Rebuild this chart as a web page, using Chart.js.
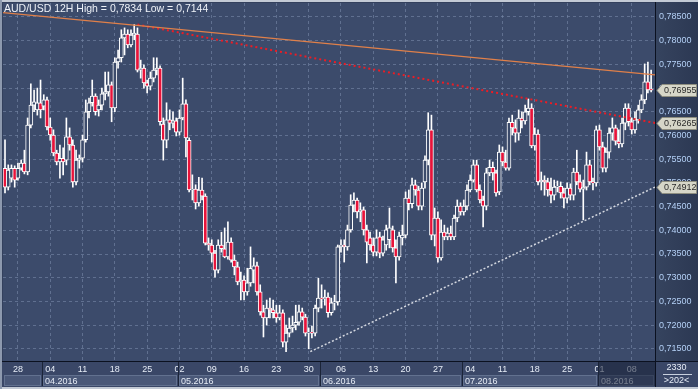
<!DOCTYPE html>
<html>
<head>
<meta charset="utf-8">
<script src="https://cdn.jsdelivr.net/npm/chart.js@4.4.0/dist/chart.umd.min.js"></script>
<style>
  html, body { margin: 0; padding: 0; background: #33405d; }
  #wrap { width: 698px; height: 389px; }
</style>
</head>
<body>
<div id="wrap"><canvas id="chart" width="698" height="389"></canvas></div>
<script>
// AUD/USD 12H candles, 24.03.2016 - 11.08.2016
const openPrices = [
  .7531,.7491,.7510,.7531,.7510,.7531,.7542,.7523,.7622,.7664,
  .7654,.7669,.7662,.7675,.7618,.7601,.7563,.7544,.7552,.7548,
  .7597,.7580,.7502,.7548,.7552,.7591,.7650,.7669,.7683,.7654,
  .7664,.7688,.7692,.7707,.7658,.7755,.7764,.7806,.7814,.7791,
  .7812,.7814,.7738,.7742,.7711,.7704,.7721,.7738,.7742,.7624,
  .7590,.7633,.7626,.7631,.7607,.7637,.7667,.7590,.7485,.7487,
  .7458,.7485,.7472,.7373,.7369,.7352,.7316,.7369,.7361,.7344,
  .7375,.7337,.7323,.7291,.7295,.7270,.7289,.7316,.7325,.7270,
  .7228,.7215,.7236,.7232,.7226,.7215,.7226,.7164,.7183,.7194,
  .7200,.7206,.7228,.7217,.7183,.7185,.7183,.7236,.7257,.7255,
  .7259,.7226,.7247,.7249,.7365,.7369,.7365,.7401,.7453,.7464,
  .7439,.7443,.7401,.7384,.7369,.7354,.7386,.7352,.7369,.7380,
  .7401,.7363,.7344,.7384,.7390,.7468,.7456,.7496,.7485,.7451,
  .7502,.7548,.7612,.7390,.7426,.7342,.7396,.7386,.7394,.7386,
  .7426,.7451,.7439,.7451,.7485,.7506,.7538,.7485,.7464,.7451,
  .7521,.7533,.7521,.7481,.7565,.7544,.7531,.7628,.7616,.7605,
  .7637,.7631,.7650,.7658,.7578,.7603,.7502,.7506,.7502,.7485,
  .7474,.7491,.7493,.7479,.7468,.7489,.7474,.7523,.7502,.7487,
  .7491,.7538,.7502,.7500,.7612,.7576,.7531,.7565,.7605,.7616,
  .7588,.7582,.7626,.7658,.7629,.7612,.7633,.7654,.7675,.7713,
  .7698
];
const highPrices = [
  .7591,.7538,.7538,.7536,.7542,.7548,.7569,.7637,.7709,.7696,
  .7700,.7717,.7686,.7681,.7637,.7612,.7569,.7580,.7574,.7637,
  .7616,.7591,.7569,.7559,.7601,.7675,.7679,.7717,.7688,.7675,
  .7700,.7734,.7734,.7713,.7764,.7780,.7823,.7827,.7823,.7823,
  .7834,.7827,.7759,.7749,.7717,.7734,.7764,.7764,.7747,.7637,
  .7669,.7654,.7650,.7637,.7654,.7721,.7675,.7595,.7517,.7496,
  .7512,.7510,.7477,.7384,.7380,.7358,.7380,.7396,.7405,.7418,
  .7384,.7348,.7333,.7312,.7304,.7320,.7365,.7342,.7333,.7285,
  .7242,.7253,.7257,.7253,.7242,.7242,.7232,.7200,.7215,.7219,
  .7242,.7242,.7236,.7223,.7194,.7198,.7242,.7299,.7285,.7274,
  .7268,.7257,.7263,.7369,.7380,.7380,.7411,.7475,.7479,.7468,
  .7458,.7449,.7411,.7396,.7384,.7401,.7396,.7388,.7411,.7447,
  .7409,.7380,.7396,.7411,.7481,.7485,.7510,.7506,.7493,.7500,
  .7557,.7648,.7643,.7447,.7439,.7422,.7411,.7405,.7409,.7432,
  .7464,.7458,.7464,.7496,.7517,.7548,.7548,.7496,.7472,.7531,
  .7548,.7544,.7527,.7580,.7576,.7569,.7637,.7643,.7633,.7654,
  .7650,.7664,.7677,.7667,.7616,.7612,.7523,.7515,.7510,.7510,
  .7506,.7504,.7502,.7489,.7500,.7498,.7531,.7569,.7517,.7506,
  .7565,.7548,.7510,.7620,.7622,.7586,.7574,.7616,.7637,.7622,
  .7612,.7637,.7667,.7667,.7637,.7650,.7664,.7686,.7751,.7755,
  .7738
];
const lowPrices = [
  .7479,.7485,.7502,.7491,.7506,.7527,.7519,.7517,.7616,.7650,
  .7643,.7637,.7654,.7612,.7590,.7557,.7538,.7510,.7517,.7538,
  .7569,.7491,.7496,.7531,.7544,.7586,.7637,.7662,.7643,.7641,
  .7654,.7675,.7683,.7629,.7650,.7742,.7755,.7770,.7785,.7787,
  .7802,.7734,.7721,.7700,.7690,.7696,.7713,.7728,.7622,.7548,
  .7574,.7612,.7616,.7599,.7601,.7633,.7555,.7481,.7464,.7445,
  .7451,.7464,.7369,.7358,.7333,.7301,.7310,.7354,.7342,.7339,
  .7333,.7306,.7285,.7253,.7253,.7263,.7282,.7289,.7263,.7221,
  .7175,.7200,.7215,.7215,.7206,.7211,.7154,.7144,.7175,.7185,
  .7190,.7200,.7211,.7177,.7150,.7173,.7177,.7228,.7236,.7242,
  .7217,.7221,.7232,.7242,.7354,.7333,.7358,.7396,.7439,.7426,
  .7418,.7390,.7331,.7358,.7346,.7346,.7342,.7346,.7358,.7363,
  .7354,.7289,.7337,.7369,.7384,.7443,.7447,.7474,.7443,.7443,
  .7489,.7538,.7380,.7367,.7333,.7337,.7380,.7380,.7380,.7380,
  .7418,.7432,.7432,.7443,.7481,.7502,.7481,.7458,.7407,.7443,
  .7515,.7506,.7472,.7475,.7536,.7527,.7527,.7601,.7586,.7590,
  .7616,.7624,.7643,.7574,.7569,.7496,.7485,.7474,.7472,.7458,
  .7464,.7481,.7468,.7447,.7458,.7464,.7464,.7496,.7481,.7422,
  .7485,.7496,.7485,.7493,.7569,.7523,.7523,.7552,.7590,.7580,
  .7574,.7576,.7612,.7620,.7603,.7605,.7626,.7648,.7667,.7690,
  .7692
];
const closePrices = [
  .7491,.7527,.7531,.7506,.7531,.7542,.7523,.7622,.7664,.7671,
  .7669,.7654,.7675,.7618,.7601,.7563,.7544,.7552,.7544,.7597,
  .7580,.7502,.7548,.7552,.7591,.7650,.7669,.7683,.7650,.7664,
  .7688,.7692,.7707,.7658,.7755,.7764,.7806,.7814,.7791,.7812,
  .7816,.7738,.7742,.7711,.7704,.7721,.7738,.7742,.7629,.7590,
  .7633,.7626,.7631,.7607,.7637,.7667,.7595,.7485,.7487,.7458,
  .7485,.7472,.7373,.7369,.7352,.7316,.7369,.7361,.7344,.7375,
  .7337,.7323,.7291,.7295,.7270,.7289,.7320,.7325,.7270,.7228,
  .7215,.7236,.7232,.7226,.7215,.7226,.7164,.7183,.7194,.7200,
  .7206,.7228,.7217,.7183,.7185,.7183,.7236,.7257,.7255,.7259,
  .7226,.7247,.7249,.7365,.7369,.7365,.7401,.7453,.7464,.7439,
  .7443,.7401,.7375,.7369,.7354,.7384,.7352,.7380,.7401,.7405,
  .7363,.7344,.7388,.7390,.7468,.7456,.7496,.7485,.7451,.7489,
  .7548,.7612,.7390,.7426,.7342,.7396,.7386,.7394,.7386,.7426,
  .7451,.7439,.7451,.7485,.7506,.7538,.7485,.7464,.7451,.7521,
  .7533,.7521,.7479,.7565,.7544,.7531,.7628,.7616,.7605,.7637,
  .7631,.7650,.7658,.7578,.7603,.7502,.7506,.7502,.7485,.7474,
  .7491,.7493,.7479,.7468,.7489,.7474,.7523,.7502,.7487,.7491,
  .7538,.7502,.7500,.7612,.7576,.7531,.7565,.7605,.7616,.7588,
  .7582,.7626,.7658,.7629,.7612,.7633,.7654,.7675,.7713,.7696,
  .76955
];

// time axis: candle index of each Monday 00:00 and of each 1st trading day of a month
const weekTicks = [4, 14, 24, 34, 44, 54, 64, 74, 84, 94, 104, 114, 124, 134, 144, 154, 164, 174, 184, 194];
const dayLabels = ['28', '04', '11', '18', '25', '02', '09', '16', '23', '30', '06', '13', '20', '27', '04', '11', '18', '25', '01', '08'];
const monthStarts = [12, 54, 98, 142, 184];
const monthLabels = ['04.2016', '05.2016', '06.2016', '07.2016', '08.2016'];
const priceTicks = [0.715, 0.72, 0.725, 0.73, 0.735, 0.74, 0.745, 0.75, 0.755, 0.76, 0.765, 0.77, 0.775, 0.78, 0.785];

// drawn trend lines: [candle index, price]
const upperTrend = [[-0.6, 0.7859], [201.2, 0.7728]];
const middleTrend = [[41, 0.7834], [201.2, 0.76265]];
const lowerTrend = [[94.5, 0.7144], [201.2, 0.74912]];
const priceTags = [0.76955, 0.76265, 0.74912];

const chartBg = '#3c4b6b';
const fontFamily = "'Liberation Sans', Arial, sans-serif";
const fmt = v => v.toFixed(5).replace('.', ',');

const idx = openPrices.map((_, i) => i);
const toPoints = line => line.map(p => ({ x: p[0], y: p[1] }));

// keep chart.js from adding label padding around the plot
const noPad = s => { s.paddingTop = 0; s.paddingBottom = 0; s.paddingLeft = 0; s.paddingRight = 0; };

const chromePlugin = {
  id: 'chrome',
  beforeDraw(chart) {
    const { ctx, chartArea: a, width, height } = chart;
    ctx.save();
    ctx.fillStyle = '#33405d';
    ctx.fillRect(0, 0, width, height);
    ctx.fillStyle = chartBg;
    ctx.fillRect(a.left, a.top, a.right - a.left, a.bottom - a.top);
    const g = ctx.createLinearGradient(a.right, 0, width, 0);
    g.addColorStop(0, '#36445f');
    g.addColorStop(1, '#2c3853');
    ctx.fillStyle = g;
    ctx.fillRect(a.right, 0, width - a.right, a.bottom);
    ctx.fillStyle = '#3a4767';
    ctx.fillRect(0, a.bottom, width, height - a.bottom);
    ctx.restore();
  },
  afterDraw(chart) {
    const { ctx, chartArea: a, width, height } = chart;
    const xs = chart.scales.x, ys = chart.scales.y;
    const rowTop = a.bottom + 14, rowBottom = height - 3;
    ctx.save();

    // month row
    const bounds = [a.left].concat(monthStarts.map(m => Math.round(xs.getPixelForValue(m - 0.5)))).concat([a.right]);
    ctx.font = '9px ' + fontFamily;
    ctx.textBaseline = 'middle';
    for (let i = 0; i < bounds.length - 1; i++) {
      ctx.fillStyle = '#4a5878';
      ctx.fillRect(bounds[i] + 1, rowTop, bounds[i + 1] - bounds[i] - 2, rowBottom - rowTop);
      ctx.strokeStyle = '#62718f';
      ctx.strokeRect(bounds[i] + 1.5, rowTop + 0.5, bounds[i + 1] - bounds[i] - 3, rowBottom - rowTop - 1);
      if (i > 0) {
        ctx.fillStyle = '#e6ecf6';
        ctx.fillText(monthLabels[i - 1], bounds[i] + 3, (rowTop + rowBottom) / 2 + 1);
      }
    }
    ctx.strokeStyle = '#1b2438';
    ctx.lineWidth = 1;
    bounds.slice(1, -1).forEach(b => {
      ctx.beginPath();
      ctx.moveTo(b + 0.5, a.bottom);
      ctx.lineTo(b + 0.5, rowBottom);
      ctx.stroke();
    });
    // last (current) month shaded
    const lastB = bounds[bounds.length - 2];
    ctx.fillStyle = 'rgba(24,32,54,0.55)';
    ctx.fillRect(lastB + 1, a.bottom, a.right - lastB - 1, rowBottom - a.bottom);

    // panel separators
    ctx.strokeStyle = '#0b1120';
    ctx.beginPath();
    ctx.moveTo(a.right + 0.5, 0);
    ctx.lineTo(a.right + 0.5, height);
    ctx.moveTo(0, a.bottom + 0.5);
    ctx.lineTo(width, a.bottom + 0.5);
    ctx.stroke();

    // window frame
    ctx.fillStyle = '#c3cad5';
    ctx.fillRect(0, 0, width, 2);
    ctx.fillRect(0, height - 2, width, 2);
    ctx.fillStyle = '#8d99ae';
    ctx.fillRect(0, 0, 2, height);

    // title
    ctx.font = '10.5px ' + fontFamily;
    ctx.textBaseline = 'top';
    ctx.fillStyle = '#eef2f8';
    ctx.fillText('AUD/USD 12H High = 0,7834 Low = 0,7144', 4, 4);

    // price tags
    ctx.font = '9px ' + fontFamily;
    ctx.textBaseline = 'middle';
    priceTags.forEach(p => {
      const y = Math.round(ys.getPixelForValue(p)) + 0.5;
      const x0 = a.right + 2;
      ctx.beginPath();
      ctx.moveTo(x0, y);
      ctx.lineTo(x0 + 5, y - 6);
      ctx.lineTo(width - 1.5, y - 6);
      ctx.lineTo(width - 1.5, y + 6);
      ctx.lineTo(x0 + 5, y + 6);
      ctx.closePath();
      ctx.fillStyle = '#d6d6c8';
      ctx.fill();
      ctx.strokeStyle = '#8e8e80';
      ctx.stroke();
      ctx.fillStyle = '#2a2a2a';
      ctx.fillText(fmt(p), x0 + 7, y);
    });

    // bar counter corner
    ctx.fillStyle = '#e6ecf6';
    ctx.textAlign = 'center';
    const cx = (a.right + width) / 2;
    ctx.fillText('2330', cx, a.bottom + 7);
    ctx.fillText('>202<', cx, a.bottom + 20);
    ctx.strokeStyle = '#c8d0de';
    ctx.beginPath();
    ctx.moveTo(a.right + 8, a.bottom + 13.5);
    ctx.lineTo(width - 6, a.bottom + 13.5);
    ctx.stroke();
    ctx.restore();
  }
};

new Chart(document.getElementById('chart'), {
  type: 'bar',
  data: {
    datasets: [
      {
        type: 'line', data: toPoints(upperTrend), borderColor: '#e0804a', borderWidth: 1.3,
        pointRadius: 0, order: 0
      },
      {
        type: 'line', data: toPoints(middleTrend), borderColor: '#ec1c24', borderWidth: 2,
        borderDash: [2, 3], pointRadius: 0, order: 0
      },
      {
        type: 'line', data: toPoints(lowerTrend), borderColor: '#d4d8e0', borderWidth: 1.5,
        borderDash: [2, 2], pointRadius: 0, order: 0
      },
      {
        type: 'bar', data: idx.map(i => ({ x: i, y: [openPrices[i], closePrices[i]] })),
        backgroundColor: idx.map(i => closePrices[i] < openPrices[i] ? '#e8133a' : chartBg),
        borderColor: '#ffffff', borderWidth: 1, borderSkipped: false,
        grouped: false, barThickness: 4, order: 1
      },
      {
        type: 'bar', data: idx.map(i => ({ x: i, y: [lowPrices[i], highPrices[i]] })),
        backgroundColor: '#ffffff', borderWidth: 0,
        grouped: false, barThickness: 1, order: 2
      }
    ]
  },
  options: {
    responsive: false,
    animation: false,
    devicePixelRatio: 1,
    layout: { padding: { left: 3, top: 3, right: 0, bottom: 0 } },
    plugins: { legend: { display: false }, tooltip: { enabled: false } },
    scales: {
      x: {
        type: 'linear', min: -0.62, max: 201.2, offset: false,
        afterBuildTicks: s => { s.ticks = weekTicks.map(v => ({ value: v })); },
        afterFit: s => { s.height = 28; noPad(s); },
        ticks: {
          autoSkip: false, maxRotation: 0, padding: 3, color: '#e6ecf6',
          font: { family: fontFamily, size: 9 },
          callback: (v, i) => dayLabels[i]
        },
        grid: { color: 'rgba(120,136,168,0.6)', drawTicks: false, offset: false },
        border: { display: false, dash: [3, 3] }
      },
      y: {
        position: 'right', min: 0.71243, max: 0.78795,
        afterBuildTicks: s => { s.ticks = priceTicks.map(v => ({ value: v })); },
        afterFit: s => { s.width = 43; noPad(s); },
        ticks: {
          padding: 4, color: '#b4d0f6',
          font: { family: fontFamily, size: 9 },
          callback: v => fmt(v)
        },
        grid: { color: 'rgba(120,136,168,0.6)', drawTicks: false },
        border: { display: false, dash: [3, 3] }
      }
    }
  },
  plugins: [chromePlugin]
});
</script>
</body>
</html>
